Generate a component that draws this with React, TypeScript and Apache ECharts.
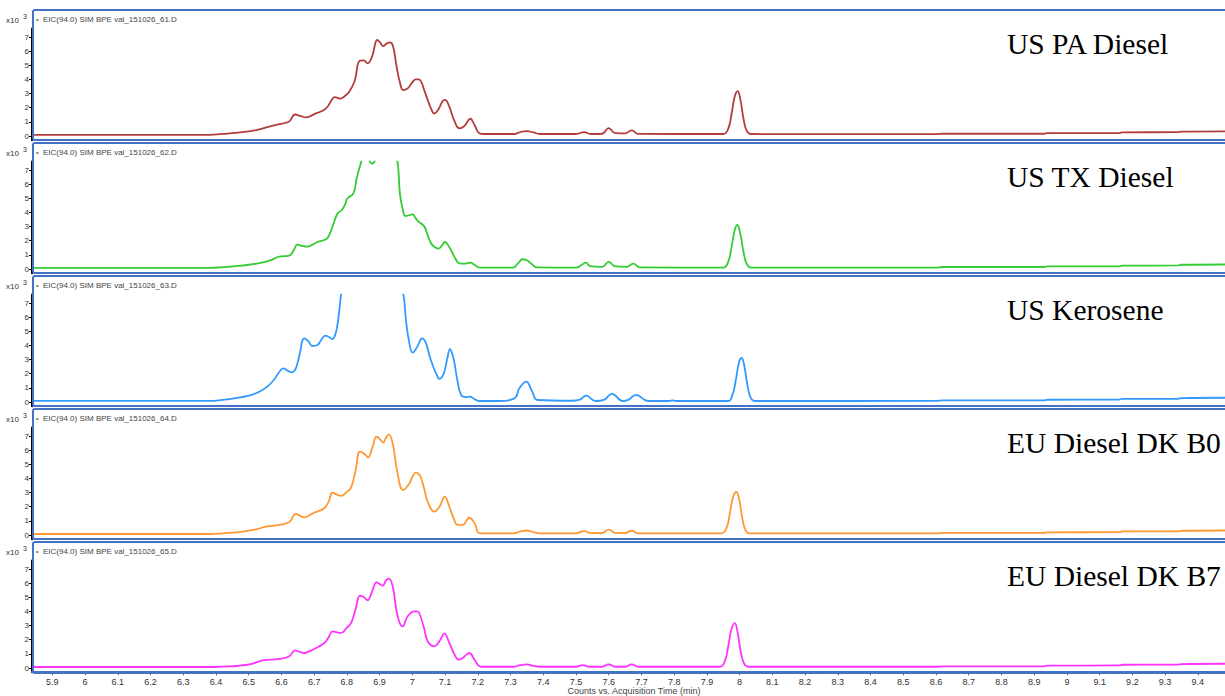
import React, { useEffect, useRef } from "react";
import * as echarts from "echarts";

const panelNames = ["US PA Diesel", "US TX Diesel", "US Kerosene", "EU Diesel DK B0", "EU Diesel DK B7"];
const fileNames = [
  "EIC(94.0) SIM BPE val_151026_61.D",
  "EIC(94.0) SIM BPE val_151026_62.D",
  "EIC(94.0) SIM BPE val_151026_63.D",
  "EIC(94.0) SIM BPE val_151026_64.D",
  "EIC(94.0) SIM BPE val_151026_65.D",
];
const lineColors = ["#b33c3c", "#33cc33", "#3399ff", "#ff9933", "#ff33ff"];
const yTicks = [0, 1, 2, 3, 4, 5, 6, 7];
const xTicks = [5.9, 6, 6.1, 6.2, 6.3, 6.4, 6.5, 6.6, 6.7, 6.8, 6.9, 7, 7.1, 7.2, 7.3, 7.4, 7.5, 7.6, 7.7, 7.8, 7.9, 8, 8.1, 8.2, 8.3, 8.4, 8.5, 8.6, 8.7, 8.8, 8.9, 9, 9.1, 9.2, 9.3, 9.4];
const xAxisTitle = "Counts vs. Acquisition Time (min)";
const scaleLabel = "x10";
const scaleExp = "3";

const usPaDiesel = [
  [5.838, 0.08], [6.38, 0.08], [6.42, 0.15], [6.46, 0.22], [6.5, 0.33], [6.53, 0.45], [6.56, 0.65], [6.59, 0.82], [6.61, 0.92], [6.625, 1.05],
  [6.642, 1.52], [6.66, 1.4], [6.675, 1.32], [6.69, 1.42], [6.705, 1.6], [6.726, 1.78], [6.741, 2.07], [6.755, 2.6], [6.763, 2.75], [6.78, 2.64],
  [6.795, 2.85], [6.807, 3.13], [6.823, 3.84], [6.84, 5.33], [6.852, 5.35], [6.863, 5.14], [6.877, 5.61], [6.893, 6.79], [6.902, 6.6], [6.911, 6.36],
  [6.922, 6.55], [6.93, 6.62], [6.94, 6.43], [6.952, 4.9], [6.962, 3.8], [6.972, 3.25], [6.986, 3.37], [7.0, 3.8], [7.011, 4.0], [7.02, 4.0],
  [7.027, 3.84], [7.037, 3.2], [7.047, 2.55], [7.057, 1.95], [7.067, 1.6], [7.08, 1.89], [7.092, 2.45], [7.1, 2.55], [7.113, 2.07], [7.128, 1.1],
  [7.144, 0.54], [7.159, 0.71], [7.177, 1.22], [7.19, 0.78], [7.205, 0.19], [7.22, 0.14], [7.31, 0.14], [7.33, 0.28], [7.35, 0.35], [7.37, 0.25],
  [7.39, 0.14], [7.5, 0.14], [7.525, 0.28], [7.545, 0.14], [7.58, 0.16], [7.6, 0.55], [7.62, 0.2], [7.65, 0.18], [7.67, 0.4], [7.69, 0.15],
  [7.95, 0.14], [7.965, 0.5], [7.975, 1.5], [7.985, 2.8], [7.994, 3.18], [8.003, 2.5], [8.012, 1.2], [8.022, 0.35], [8.035, 0.14], [8.6, 0.13],
  [8.62, 0.16], [8.93, 0.16], [8.94, 0.2], [9.16, 0.21], [9.17, 0.26], [9.34, 0.27], [9.35, 0.31], [9.483, 0.33],
];

const usTxDiesel = [
  [5.838, 0.08], [6.38, 0.08], [6.42, 0.13], [6.46, 0.2], [6.5, 0.3], [6.54, 0.45], [6.57, 0.65], [6.593, 0.87], [6.624, 0.95], [6.637, 1.3],
  [6.649, 1.72], [6.665, 1.62], [6.68, 1.58], [6.695, 1.72], [6.71, 1.91], [6.736, 2.1], [6.746, 2.4], [6.756, 2.99], [6.772, 3.94], [6.785, 4.17],
  [6.795, 4.6], [6.802, 5.0], [6.82, 5.35], [6.83, 6.41], [6.843, 7.52], [6.855, 8.3], [6.866, 7.8], [6.877, 7.45], [6.888, 7.8], [6.905, 9.3],
  [6.925, 9.6], [6.94, 8.8], [6.955, 7.52], [6.962, 5.35], [6.97, 4.3], [6.979, 3.75], [6.99, 3.8], [7.001, 3.87], [7.01, 3.6], [7.019, 3.35],
  [7.028, 3.2], [7.037, 2.99], [7.047, 2.4], [7.057, 1.82], [7.068, 1.55], [7.08, 1.44], [7.09, 1.65], [7.1, 1.91], [7.109, 1.7], [7.118, 1.34],
  [7.13, 0.8], [7.144, 0.4], [7.16, 0.38], [7.177, 0.45], [7.19, 0.3], [7.205, 0.1], [7.307, 0.1], [7.323, 0.4], [7.337, 0.69], [7.35, 0.62],
  [7.365, 0.35], [7.38, 0.12], [7.5, 0.1], [7.518, 0.3], [7.53, 0.45], [7.545, 0.18], [7.58, 0.15], [7.6, 0.5], [7.62, 0.18], [7.655, 0.15],
  [7.675, 0.38], [7.695, 0.12], [7.95, 0.1], [7.965, 0.5], [7.975, 1.5], [7.985, 2.75], [7.993, 3.11], [8.002, 2.5], [8.012, 1.2], [8.022, 0.35],
  [8.035, 0.1], [8.6, 0.1], [8.62, 0.14], [8.93, 0.14], [8.94, 0.18], [9.16, 0.19], [9.17, 0.24], [9.34, 0.25], [9.35, 0.3], [9.483, 0.32],
];

const usKerosene = [
  [5.838, 0.08], [6.38, 0.08], [6.42, 0.15], [6.46, 0.27], [6.5, 0.45], [6.53, 0.7], [6.555, 1.05], [6.575, 1.5], [6.593, 2.1], [6.605, 2.38],
  [6.62, 2.2], [6.632, 2.1], [6.644, 2.38], [6.655, 3.3], [6.67, 4.5], [6.682, 4.3], [6.695, 3.96], [6.71, 4.03], [6.722, 4.4], [6.734, 4.69],
  [6.745, 4.6], [6.756, 4.45], [6.765, 4.8], [6.772, 5.56], [6.782, 7.57], [6.79, 9.0], [6.85, 12.0], [6.9, 12.5], [6.95, 10.0], [6.973, 7.57],
  [6.981, 5.68], [6.99, 4.3], [7.001, 3.49], [7.015, 3.9], [7.03, 4.5], [7.042, 4.15], [7.052, 3.3], [7.062, 2.62], [7.073, 2.0], [7.083, 1.63],
  [7.09, 1.75], [7.098, 2.14], [7.107, 3.1], [7.115, 3.73], [7.122, 3.4], [7.128, 2.85], [7.138, 1.5], [7.149, 0.5], [7.163, 0.35], [7.176, 0.38],
  [7.19, 0.2], [7.203, 0.07], [7.261, 0.07], [7.312, 0.26], [7.327, 0.97], [7.348, 1.44], [7.365, 0.8], [7.383, 0.14], [7.485, 0.09], [7.51, 0.15],
  [7.531, 0.45], [7.56, 0.07], [7.585, 0.15], [7.61, 0.57], [7.643, 0.07], [7.66, 0.15], [7.684, 0.5], [7.72, 0.07], [7.785, 0.07], [7.795, 0.12],
  [7.805, 0.07], [7.965, 0.07], [7.978, 0.5], [7.988, 1.5], [7.998, 2.8], [8.006, 3.11], [8.014, 2.6], [8.023, 1.3], [8.033, 0.35], [8.045, 0.07],
  [8.6, 0.08], [8.62, 0.12], [8.93, 0.12], [8.94, 0.16], [9.16, 0.17], [9.17, 0.22], [9.34, 0.23], [9.35, 0.28], [9.483, 0.3],
];

const euDieselB0 = [
  [5.838, 0.07], [6.38, 0.07], [6.42, 0.12], [6.471, 0.21], [6.522, 0.4], [6.553, 0.59], [6.593, 0.71], [6.624, 0.92], [6.644, 1.49], [6.657, 1.35],
  [6.67, 1.25], [6.685, 1.38], [6.7, 1.58], [6.731, 1.89], [6.745, 2.4], [6.756, 2.99], [6.77, 2.85], [6.782, 2.76], [6.8, 3.05], [6.813, 3.37],
  [6.827, 4.6], [6.84, 5.89], [6.853, 5.75], [6.865, 5.49], [6.878, 6.2], [6.891, 6.95], [6.902, 6.75], [6.911, 6.53], [6.92, 6.9], [6.928, 7.12],
  [6.94, 6.48], [6.955, 4.36], [6.972, 3.18], [6.99, 3.6], [7.0, 4.1], [7.011, 4.41], [7.02, 4.3], [7.027, 4.0], [7.037, 3.2], [7.047, 2.36],
  [7.067, 1.65], [7.083, 2.0], [7.099, 2.71], [7.113, 2.0], [7.126, 1.2], [7.139, 0.71], [7.154, 0.71], [7.174, 1.22], [7.19, 0.83], [7.207, 0.12],
  [7.31, 0.12], [7.33, 0.25], [7.35, 0.32], [7.37, 0.2], [7.39, 0.12], [7.5, 0.12], [7.525, 0.28], [7.545, 0.13], [7.58, 0.14], [7.6, 0.38],
  [7.62, 0.15], [7.65, 0.14], [7.67, 0.3], [7.69, 0.12], [7.945, 0.12], [7.96, 0.5], [7.97, 1.5], [7.98, 2.7], [7.99, 3.04], [7.999, 2.5],
  [8.008, 1.2], [8.018, 0.35], [8.03, 0.12], [8.6, 0.12], [8.62, 0.15], [8.93, 0.15], [8.94, 0.19], [9.16, 0.2], [9.17, 0.25], [9.34, 0.26],
  [9.35, 0.3], [9.483, 0.32],
];

const euDieselB7 = [
  [5.838, 0.07], [6.38, 0.07], [6.42, 0.1], [6.471, 0.16], [6.51, 0.3], [6.542, 0.54], [6.593, 0.64], [6.624, 0.83], [6.642, 1.25], [6.655, 1.15],
  [6.67, 1.06], [6.685, 1.18], [6.7, 1.34], [6.731, 1.77], [6.745, 2.2], [6.756, 2.59], [6.77, 2.52], [6.782, 2.48], [6.8, 2.85], [6.813, 3.18],
  [6.827, 4.2], [6.84, 5.11], [6.852, 5.0], [6.863, 4.79], [6.877, 5.4], [6.891, 6.06], [6.9, 5.95], [6.909, 5.82], [6.92, 6.2], [6.928, 6.32],
  [6.94, 5.78], [6.955, 3.66], [6.97, 2.95], [6.986, 3.66], [7.006, 4.01], [7.015, 4.0], [7.021, 3.89], [7.035, 2.9], [7.047, 1.89], [7.067, 1.53],
  [7.083, 1.9], [7.098, 2.43], [7.113, 1.77], [7.128, 1.0], [7.142, 0.59], [7.154, 0.71], [7.174, 1.06], [7.19, 0.59], [7.21, 0.09], [7.31, 0.09],
  [7.33, 0.2], [7.35, 0.26], [7.37, 0.15], [7.39, 0.09], [7.5, 0.09], [7.52, 0.2], [7.54, 0.09], [7.58, 0.09], [7.6, 0.26], [7.62, 0.09],
  [7.65, 0.09], [7.67, 0.26], [7.69, 0.09], [7.94, 0.09], [7.955, 0.5], [7.965, 1.5], [7.975, 2.75], [7.985, 3.18], [7.994, 2.5], [8.003, 1.2],
  [8.013, 0.35], [8.025, 0.09], [8.6, 0.09], [8.62, 0.12], [8.93, 0.12], [8.94, 0.17], [9.16, 0.18], [9.17, 0.23], [9.34, 0.24], [9.35, 0.28],
  [9.483, 0.3],
];

const seriesData = [usPaDiesel, usTxDiesel, usKerosene, euDieselB0, euDieselB7];

const X_MIN = 5.838;
const X_MAX = 9.483;
const Y_MIN = -0.3;
const Y_MAX = 7.6;

export default function App() {
  const ref = useRef<HTMLDivElement>(null);

  useEffect(() => {
    if (!ref.current) return;
    const chart = echarts.init(ref.current, null, { renderer: "svg" });
    const step = 133;
    const pxPerUnit = 14.14;
    const grids: any[] = [];
    const xAxes: any[] = [];
    const yAxes: any[] = [];
    const series: any[] = [];
    const graphics: any[] = [];
    const sans = "Arial, 'Liberation Sans', sans-serif";

    for (let i = 0; i < 5; i++) {
      const zeroY = 136 + step * i;
      const top = zeroY - Y_MAX * pxPerUnit;
      const height = (Y_MAX - Y_MIN) * pxPerUnit;
      grids.push({ left: 32, width: 1225 - 32, top, height });
      const last = i === 4;
      xAxes.push({
        gridIndex: i,
        type: "value",
        min: X_MIN,
        max: X_MAX,
        show: last,
        axisLine: { show: true, onZero: false, lineStyle: { color: "#4472c4", width: 2 } },
        axisTick: { show: true, customValues: xTicks, length: 3, lineStyle: { color: "#555" } },
        axisLabel: {
          show: true,
          customValues: xTicks,
          fontSize: 9,
          color: "#333",
          margin: 5,
          fontFamily: sans,
          formatter: (v: number) => String(v),
        },
        splitLine: { show: false },
      });
      yAxes.push({
        gridIndex: i,
        type: "value",
        min: Y_MIN,
        max: Y_MAX,
        axisLine: { show: true, lineStyle: { color: "#000", width: 2 } },
        axisTick: { show: true, customValues: yTicks, length: 3, lineStyle: { color: "#000" } },
        axisLabel: { customValues: yTicks, fontSize: 8, color: "#333", margin: 3, fontFamily: sans },
        splitLine: { show: false },
      });
      series.push({
        type: "line",
        xAxisIndex: i,
        yAxisIndex: i,
        data: seriesData[i],
        showSymbol: false,
        smooth: 0.45,
        clip: true,
        lineStyle: { color: lineColors[i], width: 1.8 },
        itemStyle: { color: lineColors[i] },
      });

      const pTop = 10 + step * i;
      graphics.push({
        type: "rect",
        shape: { x: 33, y: pTop, width: 1260, height: last ? 131 : 130, r: 2 },
        style: { fill: "none", stroke: "#4472c4", lineWidth: 2 },
        z: 10,
      });
      graphics.push({
        type: "text",
        x: 6,
        y: 20.5 + step * i,
        style: { text: scaleLabel, font: `8px ${sans}`, fill: "#333", textVerticalAlign: "middle" },
      });
      graphics.push({
        type: "text",
        x: 23,
        y: 16.5 + step * i,
        style: { text: scaleExp, font: `7px ${sans}`, fill: "#333", textVerticalAlign: "middle" },
      });
      graphics.push({
        type: "text",
        x: 36,
        y: 19 + step * i,
        style: { text: "•", font: `7px ${sans}`, fill: "#666", textVerticalAlign: "middle" },
      });
      graphics.push({
        type: "text",
        x: 43,
        y: 19 + step * i,
        style: { text: fileNames[i], font: `8px ${sans}`, fill: "#444", textVerticalAlign: "middle" },
      });
      graphics.push({
        type: "text",
        x: 1007,
        y: 44 + step * i,
        style: {
          text: panelNames[i],
          font: `29.5px 'Liberation Serif', 'Times New Roman', serif`,
          fill: "#000",
          textVerticalAlign: "middle",
        },
        z: 20,
      });
    }
    graphics.push({
      type: "text",
      x: 634,
      y: 690.5,
      style: { text: xAxisTitle, font: `9px ${sans}`, fill: "#444", textAlign: "center", textVerticalAlign: "middle" },
    });

    chart.setOption({
      animation: false,
      backgroundColor: "#fff",
      grid: grids,
      xAxis: xAxes,
      yAxis: yAxes,
      series,
      graphic: graphics,
    });
    return () => chart.dispose();
  }, []);

  return (
    <div
      ref={ref}
      style={{ position: "fixed", left: 0, top: 0, width: 1225, height: 696, background: "#fff" }}
    />
  );
}
